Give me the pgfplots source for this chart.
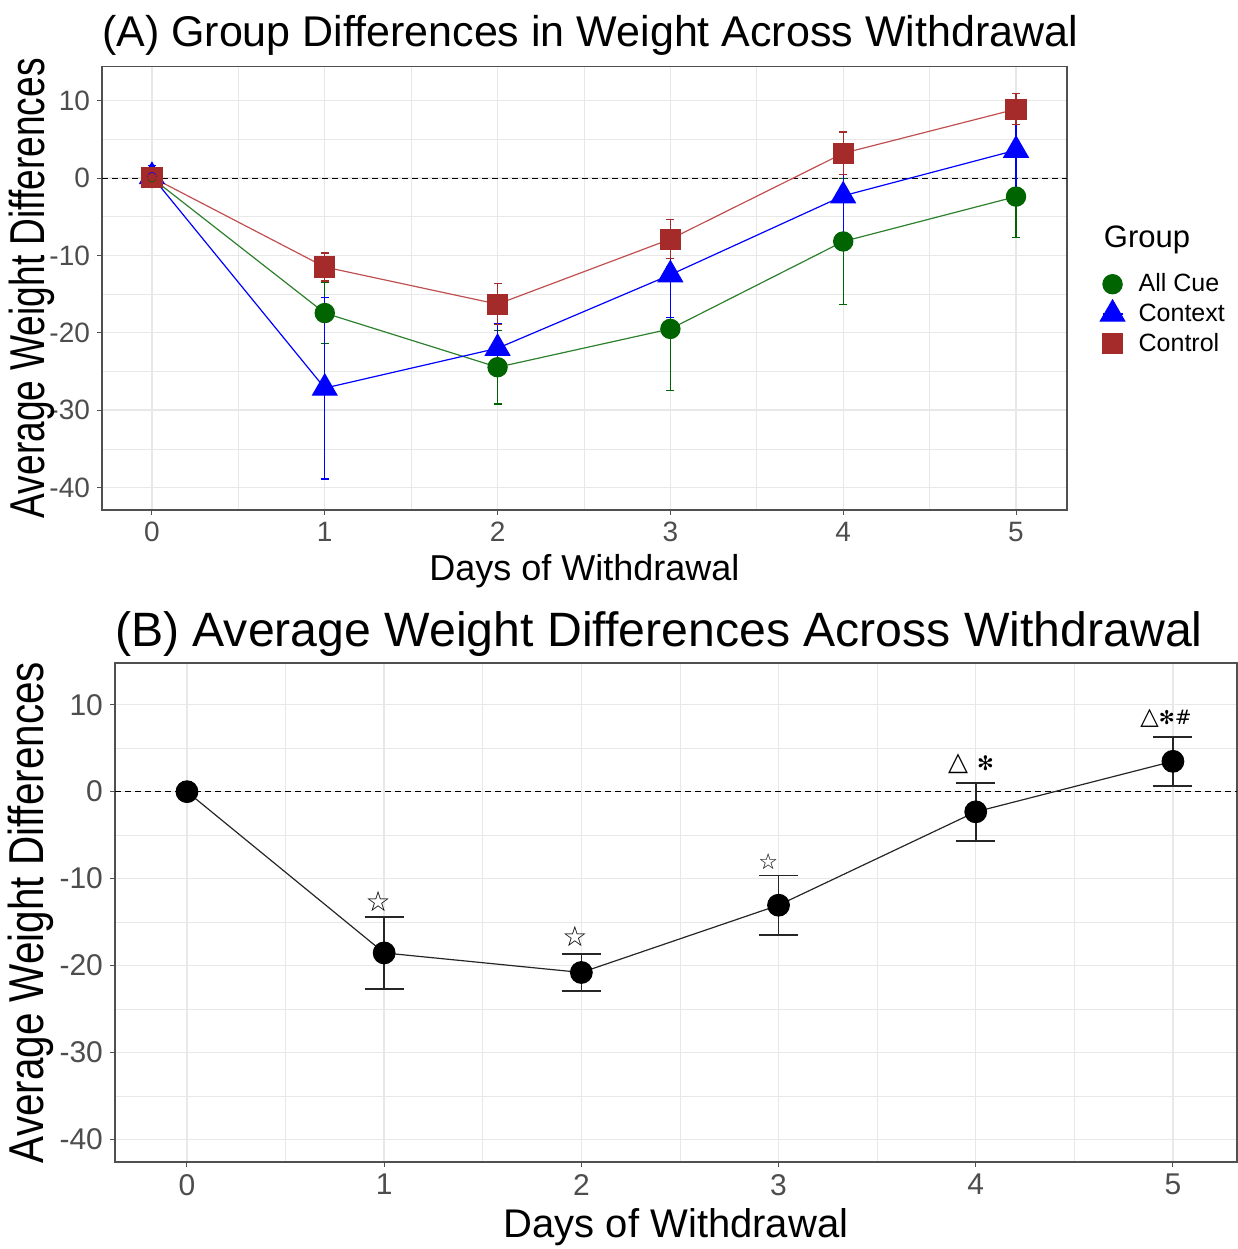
\documentclass[border=0pt]{standalone}
\usepackage{pgfplots}
\pgfplotsset{compat=1.18}
\usepackage{fontspec}
\setmainfont{Liberation Sans}
\newfontfamily\djv{DejaVu Sans}
\newfontfamily\djvb{DejaVu Sans Bold}
\definecolor{acfill}{RGB}{0,100,0}
\definecolor{acline}{RGB}{45,128,45}
\definecolor{ctxblue}{RGB}{0,0,255}
\definecolor{ctlfill}{RGB}{165,42,42}
\definecolor{ctlline}{RGB}{192,80,80}
\definecolor{gridc}{RGB}{232,232,232}
\definecolor{tickc}{RGB}{77,77,77}
\definecolor{framec}{RGB}{80,80,80}

\pgfplotsset{
  gg/.style={
    scale only axis,
    axis line style={draw=framec, line width=0.6pt},
    tick align=outside,
    xtick pos=lower, ytick pos=left,
    major tick length=2.5pt,
    minor tick length=0pt,
    tick style={color=framec, line width=0.5pt},
    grid=both, minor tick num=1,
    major grid style={draw=gridc, line width=0.7pt},
    minor grid style={draw=gridc, line width=0.35pt},
    xtick={0,1,2,3,4,5}, xticklabels={0,1,2,3,4,5},
    ytick={-40,-30,-20,-10,0,10},
    yticklabels={-40,-30,-20,-10,0,10},
    ticklabel style={text=tickc},
    clip=false,
  }
}

\begin{document}
\begin{tikzpicture}
\path[use as bounding box] (0,0) rectangle (619pt,624.5pt);

% ---------------- Panel A ----------------
\begin{axis}[gg,
  at={(51pt,369.5pt)}, anchor=south west,
  width=482.5pt, height=221.7pt,
  xmin=-0.289, xmax=5.295, ymin=-42.9, ymax=14.4,
  tick label style={font=\fontsize{14}{14}\selectfont},
  title={(A) Group Differences in Weight Across Withdrawal},
  title style={at={(axis description cs:0,1)}, anchor=base west, yshift=4pt, xshift=-3.5pt, font=\fontsize{21.5}{21.5}\selectfont},
  xlabel={Days of Withdrawal},
  xlabel style={at={(axis description cs:0.5,0)}, anchor=base, yshift=-35.5pt, font=\fontsize{18}{18}\selectfont},
  ylabel={\scalebox{0.757}[1]{Average Weight Differences}},
  ylabel style={at={(axis description cs:0,0.5)}, anchor=base, yshift=29pt, font=\fontsize{24.5}{24.5}\selectfont},
  legend style={at={(1.028,0.442)}, anchor=west, draw=none, fill=none,
    font=\fontsize{12.5}{15}\selectfont, row sep=0.5pt,
    /tikz/every odd column/.append style={column sep=5pt}},
  legend cell align=left,
  legend image code/.code={\draw[mark repeat=2,mark phase=2,#1] plot coordinates {(1pt,0pt) (6pt,0pt) (11pt,0pt)};},
]
\addplot[black, dashed, line width=0.5pt, dash pattern=on 3pt off 2pt, forget plot] coordinates {(-0.289,0) (5.295,0)};

\addplot[acline, line width=0.6pt, mark=*, mark size=4.8pt, mark options={draw=acfill, fill=acfill, solid}]
  coordinates {(0,0) (1,-17.45) (2,-24.45) (3,-19.5) (4,-8.2) (5,-2.4)};
\addlegendentry{All Cue}
\addplot[ctxblue, line width=0.6pt, mark=triangle*, mark size=7pt, mark options={draw=ctxblue, fill=ctxblue, solid}]
  coordinates {(0,0.2) (1,-27.15) (2,-22.0) (3,-12.5) (4,-2.3) (5,3.6)};
\addlegendentry{Context}
\addplot[ctlline, line width=0.6pt, mark=square*, mark size=5pt, mark options={draw=ctlfill, fill=ctlfill, solid}]
  coordinates {(0,0.1) (1,-11.5) (2,-16.3) (3,-7.9) (4,3.2) (5,8.9)};
\addlegendentry{Control}

\addplot[acfill, only marks, mark=none, forget plot,
  error bars/.cd, y dir=both, y explicit, error mark=|,
  error bar style={draw=acfill, line width=0.6pt},
  error mark options={draw=acfill, line width=0.6pt, mark size=2pt}]
  coordinates {(0,0) +- (0,0.6) (1,-17.45) +- (0,3.95) (2,-24.45) +- (0,4.75) (3,-19.5) +- (0,8.0) (4,-8.2) +- (0,8.1) (5,-2.4) +- (0,5.3)};
\addplot[ctxblue, only marks, mark=none, forget plot,
  error bars/.cd, y dir=both, y explicit, error mark=|,
  error bar style={draw=ctxblue, line width=0.6pt},
  error mark options={draw=ctxblue, line width=0.6pt, mark size=2pt}]
  coordinates {(0,0.2) +- (0,1.4) (1,-27.15) +- (0,11.75) (2,-22.0) +- (0,3.15) (3,-12.5) +- (0,5.5) (4,-2.3) +- (0,5.45) (5,3.6) +- (0,5.46)};
\addplot[ctlfill, only marks, mark=none, forget plot,
  error bars/.cd, y dir=both, y explicit, error mark=|,
  error bar style={draw=ctlfill, line width=0.6pt},
  error mark options={draw=ctlfill, line width=0.6pt, mark size=2pt}]
  coordinates {(0,0.1) +- (0,0.5) (1,-11.5) +- (0,1.8) (2,-16.3) +- (0,2.65) (3,-7.9) +- (0,2.55) (4,3.2) +- (0,2.75) (5,8.9) +- (0,2.0)};

\node[anchor=base west, font=\fontsize{15.5}{15.5}\selectfont] at (rel axis cs:1.031,0.592) {Group};
\end{axis}

% ---------------- Panel B ----------------
\begin{axis}[gg,
  at={(57.5pt,43.5pt)}, anchor=south west,
  width=561pt, height=249.5pt,
  xmin=-0.365, xmax=5.325, ymin=-42.6, ymax=14.8,
  tick label style={font=\fontsize{15}{15}\selectfont},
  title={(B) Average Weight Differences Across Withdrawal},
  title style={at={(axis description cs:0,1)}, anchor=base west, yshift=2.5pt, xshift=-3.5pt, font=\fontsize{24.1}{24.1}\selectfont},
  xlabel={Days of Withdrawal},
  xlabel style={at={(axis description cs:0.5,0)}, anchor=base, yshift=-37.5pt, font=\fontsize{20}{20}\selectfont},
  ylabel={\scalebox{0.825}[1]{Average Weight Differences}},
  ylabel style={at={(axis description cs:0,0.5)}, anchor=base, yshift=36pt, font=\fontsize{24.5}{24.5}\selectfont},
]
\addplot[black, dashed, line width=0.5pt, dash pattern=on 3pt off 2pt, forget plot] coordinates {(-0.365,0) (5.325,0)};

\addplot[black!85, line width=0.6pt, mark=*, mark size=5.4pt, mark options={draw=black, fill=black, solid}]
  coordinates {(0,0) (1,-18.55) (2,-20.8) (3,-13.06) (4,-2.32) (5,3.49)};

\addplot[black, only marks, mark=none, forget plot,
  error bars/.cd, y dir=both, y explicit, error mark=|,
  error bar style={draw=black!85, line width=0.85pt},
  error mark options={draw=black!85, line width=0.85pt, mark size=9.75pt}]
  coordinates {(1,-18.55) +- (0,4.15) (2,-20.8) +- (0,2.1) (3,-13.06) +- (0,3.4) (4,-2.32) +- (0,3.35) (5,3.49) +- (0,2.8)};

\node[font=\djvb\fontsize{14}{14}\selectfont] at (axis cs:0.969,-12.6) {☆};
\node[font=\djvb\fontsize{14}{14}\selectfont] at (axis cs:1.967,-16.6) {☆};
\node[font=\djvb\fontsize{11}{11}\selectfont] at (axis cs:2.948,-8.05) {☆};
\node[font=\djvb\fontsize{13}{13}\selectfont] at (axis cs:3.976,3.26) {△ {\djv\fontsize{10}{10}\selectfont ✻}};
\node[font=\djvb\fontsize{12}{12}\selectfont] at (axis cs:4.965,8.44) {△{\djv\fontsize{9.5}{9.5}\selectfont ✻}{\djv\fontsize{10}{10}\selectfont\#}};
\end{axis}
\end{tikzpicture}
\end{document}
